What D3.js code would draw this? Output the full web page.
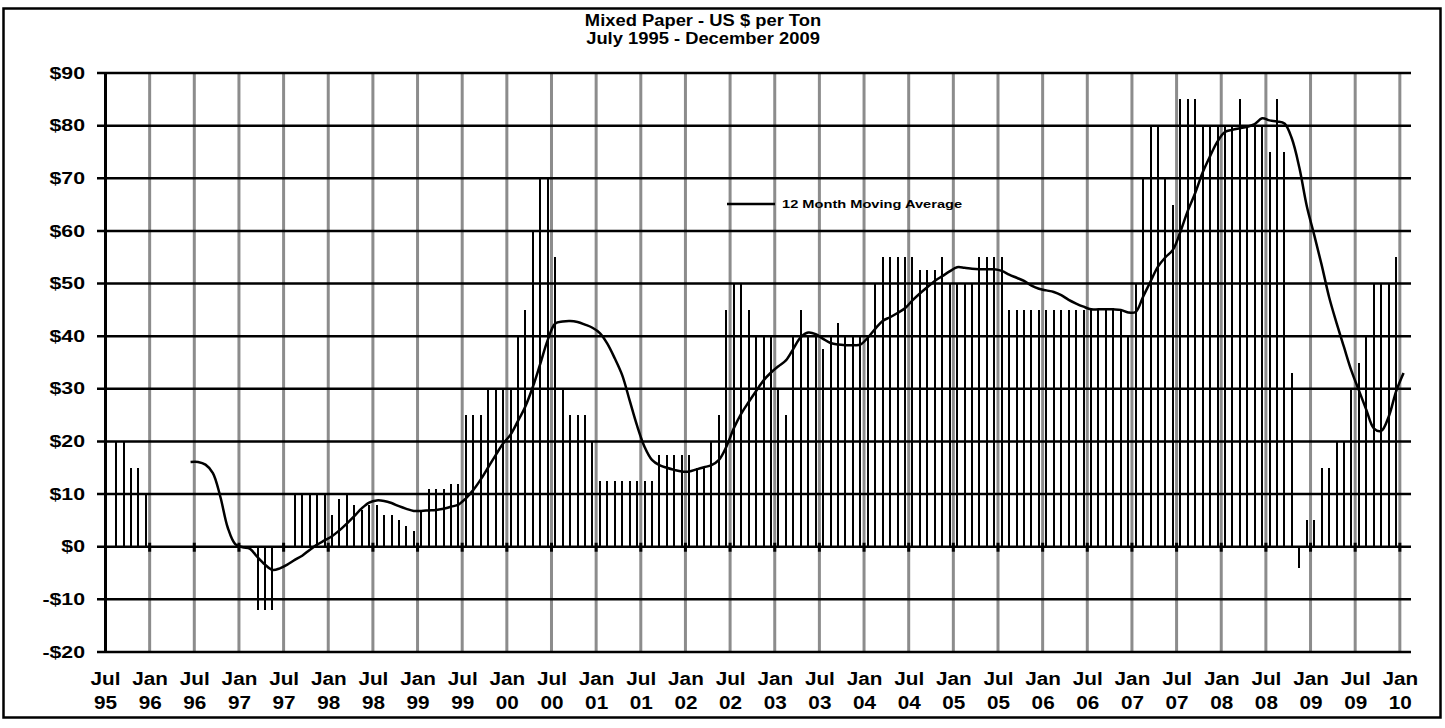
<!DOCTYPE html>
<html lang="en">
<head>
<meta charset="UTF-8">
<title>Mixed Paper - US $ per Ton</title>
<script src="https://cdn.jsdelivr.net/npm/d3@7"></script>
<style>
  body { margin: 0; background: #fff; }
  svg { display: block; font-family: "Liberation Sans", Arial, sans-serif; font-weight: bold; }
</style>
</head>
<body>
<div id="chart"></div>
<script>
// monthly prices, Jul 1995 .. Dec 2009 (null = no quote)
const prices = [
  null, 20, 20, 15, 15, 10,                 // Jul-Dec 95
  null, null, null, null, null, null,       // 96 H1
  null, null, null, null, null, null,       // 96 H2
  0, 0, -12, -12, -12, 0,                   // 97 H1
  0, 10, 10, 10, 10, 10,                    // 97 H2
  6, 9, 10, 8, 7, 8,                        // 98 H1
  8, 6, 6, 5, 4, 3,                         // 98 H2
  7, 11, 11, 11, 12, 12,                    // 99 H1
  25, 25, 25, 30, 30, 30,                   // 99 H2
  30, 40, 45, 60, 70, 70,                   // 00 H1
  55, 30, 25, 25, 25, 20,                   // 00 H2
  12.5, 12.5, 12.5, 12.5, 12.5, 12.5,       // 01 H1
  12.5, 12.5, 17.5, 17.5, 17.5, 17.5,       // 01 H2
  17.5, 15, 15, 20, 25, 45,                 // 02 H1
  50, 50, 45, 40, 40, 40,                   // 02 H2
  30, 25, 40, 45, 40, 40,                   // 03 H1
  37.5, 40, 42.5, 40, 40, 40,               // 03 H2
  40, 50, 55, 55, 55, 55,                   // 04 H1
  55, 52.5, 52.5, 52.5, 55, 50,             // 04 H2
  50, 50, 50, 55, 55, 55,                   // 05 H1
  55, 45, 45, 45, 45, 45,                   // 05 H2
  45, 45, 45, 45, 45, 45,                   // 06 H1
  45, 45, 45, 45, 45, 40,                   // 06 H2
  50, 70, 80, 80, 70, 65,                   // 07 H1
  85, 85, 85, 80, 80, 80,                   // 07 H2
  80, 80, 85, 80, 80, 80,                   // 08 H1
  75, 85, 75, 33, -4, 5,                    // 08 H2
  5, 15, 15, 20, 20, 30,                    // 09 H1
  35, 40, 50, 50, 50, 55                    // 09 H2
];

// 12 month moving average, read monthly from Jun 96 (month index 11)
const maStart = 11;
const movingAvg = [
  16.1, 16.1, 15.6, 14.0, 9.5, 3.6, 0.5,
  -0.1, -0.4, -2.0, -3.4, -4.4, -4.1,
  -3.4, -2.5, -1.7, -0.6, 0.4, 1.2,
  2.0, 3.1, 4.4, 5.8, 7.3, 8.4,
  8.8, 8.7, 8.3, 7.7, 7.2, 6.8,
  6.8, 6.9, 7.0, 7.2, 7.6, 8.0,
  9.2, 10.8, 12.8, 15.1, 17.4, 19.6,
  21.3, 23.9, 26.7, 30.4, 34.8, 39.3,
  42.4, 42.8, 42.9, 42.7, 42.2, 41.6,
  40.6, 38.6, 35.8, 32.6, 27.8, 23.0,
  19.0, 16.5, 15.5, 15.0, 14.6, 14.3,
  14.3, 14.7, 15.1, 15.5, 16.5, 19.0,
  22.5, 25.3, 27.5, 29.6, 31.6, 33.1,
  34.3, 35.4, 37.6, 39.8, 40.7, 40.4,
  39.5, 38.7, 38.4, 38.3, 38.3, 38.4,
  39.7, 41.4, 42.9, 43.6, 44.4, 45.3,
  46.8, 48.1, 49.3, 50.5, 51.4, 52.3,
  53.1, 53.0, 52.8, 52.7, 52.7, 52.7,
  52.4, 51.7, 51.1, 50.5, 49.6, 49.0,
  48.7, 48.4, 47.8, 46.9, 46.2, 45.6,
  45.1, 45.1, 45.1, 45.1, 45.0, 44.5,
  44.6, 47.5, 50.4, 53.2, 55.0, 56.4,
  59.8, 63.8, 67.2, 71.1, 74.2, 77.0,
  78.8, 79.2, 79.5, 79.8, 80.3, 81.4,
  81.0, 80.8, 80.4, 77.5, 72.0, 64.7,
  59.2, 53.5, 47.4, 42.5, 37.9, 33.4,
  29.7, 26.0, 22.5, 22.0, 24.7, 29.5,
  33.0
];

const yTicks = [-20, -10, 0, 10, 20, 30, 40, 50, 60, 70, 80, 90];
const xTickLabels = [
  'Jul 95', 'Jan 96', 'Jul 96', 'Jan 97', 'Jul 97', 'Jan 98', 'Jul 98', 'Jan 99',
  'Jul 99', 'Jan 00', 'Jul 00', 'Jan 01', 'Jul 01', 'Jan 02', 'Jul 02', 'Jan 03',
  'Jul 03', 'Jan 04', 'Jul 04', 'Jan 05', 'Jul 05', 'Jan 06', 'Jul 06', 'Jan 07',
  'Jul 07', 'Jan 08', 'Jul 08', 'Jan 09', 'Jul 09', 'Jan 10'
];
const xTickMonths = xTickLabels.map((d, i) => i * 6);

const W = 1445, H = 728;
const svg = d3.select('#chart').append('svg').attr('width', W).attr('height', H);

const x = d3.scaleLinear().domain([0, 175.5]).range([105, 1411]);
const y = d3.scaleLinear().domain([-20, 90]).range([652, 73]);

// the original's lettering is drawn a little wide
const wide = (sx, tx, ty) => `translate(${tx},${ty}) scale(${sx},1)`;

// outer frame
svg.append('rect')
  .attr('x', 3.5).attr('y', 8.5).attr('width', 1437).attr('height', 709)
  .attr('fill', 'none').attr('stroke', '#000').attr('stroke-width', 2.5);

// title
const title = svg.append('g').attr('text-anchor', 'middle').style('font-size', '17px');
title.append('text').attr('transform', wide(1.08, 703, 26)).text('Mixed Paper - US $ per Ton');
title.append('text').attr('transform', wide(1.08, 703, 44)).text('July 1995  - December  2009');

// vertical grey gridlines
svg.append('g')
  .selectAll('line')
  .data(xTickMonths.slice(1))
  .join('line')
  .attr('x1', d => x(d)).attr('x2', d => x(d))
  .attr('y1', y(90)).attr('y2', y(-20))
  .attr('stroke', '#8c8c8c').attr('stroke-width', 3);

// horizontal gridlines
svg.append('g')
  .selectAll('line')
  .data(yTicks)
  .join('line')
  .attr('x1', x(0) - 8).attr('x2', x(175.5))
  .attr('y1', d => y(d)).attr('y2', d => y(d))
  .attr('stroke', '#000').attr('stroke-width', 2.5);

// price bars
const barData = prices.map((v, i) => ({ i, v })).filter(d => d.v !== null && d.v !== 0);
svg.append('g')
  .attr('shape-rendering', 'crispEdges')
  .selectAll('rect')
  .data(barData)
  .join('rect')
  .attr('x', d => x(d.i + 0.5) - 1)
  .attr('width', 2)
  .attr('y', d => y(Math.max(0, d.v)))
  .attr('height', d => Math.abs(y(d.v) - y(0)))
  .attr('fill', '#000');

// category axis at zero with tick marks
svg.append('g')
  .selectAll('line')
  .data(xTickMonths.slice(1))
  .join('line')
  .attr('x1', d => x(d)).attr('x2', d => x(d))
  .attr('y1', y(0) - 4).attr('y2', y(0) + 5)
  .attr('stroke', '#000').attr('stroke-width', 3);

// value axis
const yAxis = svg.append('g')
  .attr('transform', `translate(${x(0)},0)`)
  .call(d3.axisLeft(y).tickValues(yTicks).tickSize(0)
    .tickFormat(d => (d < 0 ? '-$' : '$') + Math.abs(d)));
yAxis.select('.domain').attr('stroke', '#000').attr('stroke-width', 3);
yAxis.selectAll('text')
  .attr('x', 0)
  .attr('transform', wide(1.33, -20, 0))
  .attr('fill', '#000')
  .style('font-size', '16px')
  .style('font-family', '"Liberation Sans", Arial, sans-serif')
  .style('font-weight', 'bold');

// month labels, two rows
const xAxis = svg.append('g')
  .attr('transform', `translate(0,${y(-20)})`)
  .call(d3.axisBottom(x).tickValues(xTickMonths).tickSize(0).tickFormat(''));
xAxis.select('.domain').remove();
xAxis.selectAll('.tick').each(function (d, i) {
  const parts = xTickLabels[i].split(' ');
  const t = d3.select(this);
  t.append('text').attr('transform', wide(1.12, 0, 33)).text(parts[0]);
  t.append('text').attr('transform', wide(1.12, 0, 57)).text(parts[1]);
});
xAxis.selectAll('text')
  .attr('fill', '#000')
  .attr('text-anchor', 'middle')
  .style('font-size', '18.5px')
  .style('font-family', '"Liberation Sans", Arial, sans-serif')
  .style('font-weight', 'bold');

// moving average
const maData = movingAvg.map((v, k) => ({ i: maStart + k, v }));
svg.append('path')
  .datum(maData)
  .attr('fill', 'none')
  .attr('stroke', '#000')
  .attr('stroke-width', 2.5)
  .attr('d', d3.line().x(d => x(d.i + 0.5)).y(d => y(d.v)).curve(d3.curveCatmullRom));

// legend
const legend = svg.append('g').attr('transform', 'translate(727,204)');
legend.append('line').attr('x1', 0).attr('x2', 48).attr('stroke', '#000').attr('stroke-width', 2.5);
legend.append('text').attr('transform', wide(1.33, 55, 4)).style('font-size', '11px')
  .text('12 Month Moving  Average');
</script>
</body>
</html>
